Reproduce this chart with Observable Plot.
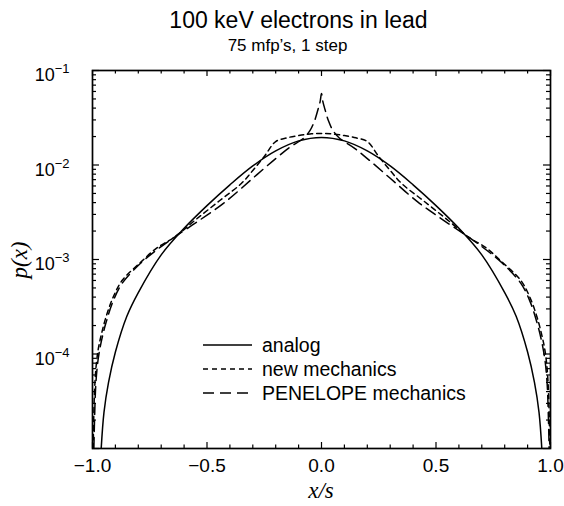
<!DOCTYPE html>
<html><head><meta charset="utf-8">
<script src="https://cdn.jsdelivr.net/npm/d3@7"></script>
<script src="https://cdn.jsdelivr.net/npm/@observablehq/plot@0.6"></script>
<style>
body{margin:0;background:#fff;}
#wrap{position:relative;width:564px;height:506px;font-family:"Liberation Sans",Arial,sans-serif;}
.t{position:absolute;text-align:center;white-space:nowrap;color:#000;line-height:1;}
</style></head><body><div id="wrap">
<div class="t" style="left:0;width:597px;top:9px;font-size:23px;">100 keV electrons in lead</div>
<div class="t" style="left:0;width:575px;top:37px;font-size:17px;">75 mfp’s, 1 step</div>
</div>
<script>
// analog (solid)
const xAnalog = [-0.962,-0.95,-0.93,-0.9,-0.85,-0.8,-0.7,-0.6,-0.5,-0.4,-0.3,-0.2,-0.1,0,0.1,0.2,0.3,0.4,0.5,0.6,0.7,0.8,0.85,0.9,0.93,0.95,0.962];
const pAnalog = [1.0e-5,2.4e-5,5.0e-5,1.05e-4,2.51e-4,4.47e-4,1.12e-3,2.14e-3,3.72e-3,6.17e-3,9.77e-3,1.41e-2,1.80e-2,1.96e-2,1.80e-2,1.41e-2,9.77e-3,6.17e-3,3.72e-3,2.14e-3,1.12e-3,4.47e-4,2.51e-4,1.05e-4,5.0e-5,2.4e-5,1.0e-5];
// new mechanics (short dash)
const xNew = [-0.997,-0.992,-0.985,-0.975,-0.96,-0.94,-0.91,-0.87,-0.79,-0.72,-0.64,-0.55,-0.444,-0.35,-0.3,-0.25,-0.2,-0.15,-0.1,-0.05,0,0.05,0.1,0.15,0.2,0.25,0.3,0.35,0.444,0.55,0.64,0.72,0.79,0.87,0.91,0.94,0.96,0.975,0.985,0.992,0.997];
const pNew = [1.0e-5,3.55e-5,7.08e-5,1.12e-4,1.66e-4,2.51e-4,3.98e-4,6.03e-4,9.33e-4,1.32e-3,1.74e-3,2.63e-3,4.21e-3,6.37e-3,8.75e-3,1.23e-2,1.77e-2,1.94e-2,2.05e-2,2.13e-2,2.16e-2,2.13e-2,2.05e-2,1.94e-2,1.77e-2,1.23e-2,8.75e-3,6.37e-3,4.21e-3,2.63e-3,1.74e-3,1.32e-3,9.33e-4,6.03e-4,3.98e-4,2.51e-4,1.66e-4,1.12e-4,7.08e-5,3.55e-5,1.0e-5];
// PENELOPE mechanics (long dash)
const xPen = [-0.994,-0.99,-0.985,-0.975,-0.96,-0.94,-0.91,-0.87,-0.79,-0.72,-0.64,-0.53,-0.42,-0.3,-0.2,-0.14,-0.08,-0.05,-0.03,-0.015,-0.006,0,0.006,0.015,0.03,0.05,0.08,0.14,0.2,0.3,0.42,0.53,0.64,0.72,0.79,0.87,0.91,0.94,0.96,0.975,0.985,0.99,0.994];
const pPen = [1.0e-5,2.51e-5,5.01e-5,8.91e-5,1.41e-4,2.19e-4,3.63e-4,5.62e-4,9.12e-4,1.26e-3,1.74e-3,2.63e-3,4.07e-3,7.24e-3,1.17e-2,1.53e-2,1.91e-2,2.32e-2,2.95e-2,3.89e-2,4.68e-2,5.71e-2,4.68e-2,3.89e-2,2.95e-2,2.32e-2,1.91e-2,1.53e-2,1.17e-2,7.24e-3,4.07e-3,2.63e-3,1.74e-3,1.26e-3,9.12e-4,5.62e-4,3.63e-4,2.19e-4,1.41e-4,8.91e-5,5.01e-5,2.51e-5,1.0e-5];

const seriesNames = ["analog", "new mechanics", "PENELOPE mechanics"];
const xMajorTicks = [-1.0, -0.5, 0.0, 0.5, 1.0];
const xMinorTicks = [-0.9,-0.8,-0.7,-0.6,-0.4,-0.3,-0.2,-0.1,0.1,0.2,0.3,0.4,0.6,0.7,0.8,0.9];
const yMajorTicks = [1e-5, 1e-4, 1e-3, 1e-2, 1e-1];
const yLabelTicks = [1e-4, 1e-3, 1e-2, 1e-1];
const yMinorTicks = [];
[1e-5,1e-4,1e-3,1e-2].forEach(b => [2,3,4,5,6,7,8,9].forEach(m => yMinorTicks.push(+(b*m).toPrecision(3))));

const toRows = (xs, ps) => xs.map((x, i) => ({x, p: ps[i]}));
const analog = toRows(xAnalog, pAnalog);
const newMech = toRows(xNew, pNew);
const pen = toRows(xPen, pPen);

const W = 564, H = 506, mT = 70, mL = 92, mR = 14, mB = 58;
const FW = W - mL - mR, FH = H - mT - mB;
const dashes = [null, "5,4", "11,6"];
const sw = 1.5;

const plot = Plot.plot({
  width: W, height: H,
  marginTop: mT, marginLeft: mL, marginRight: mR, marginBottom: mB,
  style: {fontFamily: "'Liberation Sans', Arial, sans-serif", fontSize: "19px", color: "#000", background: "#fff", overflow: "visible"},
  x: {domain: [-1, 1], label: null},
  y: {type: "log", domain: [1e-5, 0.1], label: null},
  marks: [
    Plot.line(analog, {x: "x", y: "p", stroke: "black", strokeWidth: sw, curve: "catmull-rom", clip: true}),
    Plot.line(newMech, {x: "x", y: "p", stroke: "black", strokeWidth: sw, strokeDasharray: dashes[1], curve: "catmull-rom", clip: true}),
    Plot.line(pen, {x: "x", y: "p", stroke: "black", strokeWidth: sw, strokeDasharray: dashes[2], curve: "catmull-rom", clip: true}),
    Plot.tickX(xMajorTicks, {x: d => d, insetTop: FH - 6, stroke: "black", strokeWidth: 1.2}),
    Plot.tickX(xMajorTicks, {x: d => d, insetBottom: FH - 6, stroke: "black", strokeWidth: 1.2}),
    Plot.tickX(xMinorTicks, {x: d => d, insetTop: FH - 3.5, stroke: "black", strokeWidth: 1.2}),
    Plot.tickX(xMinorTicks, {x: d => d, insetBottom: FH - 3.5, stroke: "black", strokeWidth: 1.2}),
    Plot.tickY(yMajorTicks, {y: d => d, insetRight: FW - 7, stroke: "black", strokeWidth: 1.2}),
    Plot.tickY(yMajorTicks, {y: d => d, insetLeft: FW - 7, stroke: "black", strokeWidth: 1.2}),
    Plot.tickY(yMinorTicks, {y: d => d, insetRight: FW - 4, stroke: "black", strokeWidth: 1.2}),
    Plot.tickY(yMinorTicks, {y: d => d, insetLeft: FW - 4, stroke: "black", strokeWidth: 1.2}),
    Plot.frame({stroke: "black", strokeWidth: 1.7}),
    Plot.axisX({ticks: xMajorTicks, tickSize: 0, tickPadding: 10, tickFormat: d3.format(".1f"), fontSize: 19}),
    Plot.axisY({ticks: yLabelTicks, tickSize: 0, tickPadding: 23, dy: 5, tickFormat: d => String(Math.round(Math.log10(d))), fontSize: 18})
  ]
});

const svg = d3.select(plot);
svg.selectAll('g[aria-label="y-axis tick label"] text').each(function() {
  const e = +this.textContent;
  const t = d3.select(this);
  t.text("10");
  t.append("tspan").attr("dy", "-0.6em").attr("font-size", "13px").text("\u2212" + Math.abs(e));
});

// axis titles
svg.append("text").attr("transform", "translate(27,260) rotate(-90)").attr("text-anchor", "middle")
  .attr("font-family", "'Liberation Serif', 'Times New Roman', serif").attr("font-style", "italic").attr("font-size", 23).text("p(x)");
svg.append("text").attr("x", 321).attr("y", 498).attr("text-anchor", "middle")
  .attr("font-family", "'Liberation Serif', 'Times New Roman', serif").attr("font-style", "italic").attr("font-size", 23).text("x/s");

// legend
const lg = svg.append("g");
const rowsY = [345, 369, 393];
seriesNames.forEach((name, i) => {
  const l = lg.append("line").attr("x1", 203).attr("x2", 252).attr("y1", rowsY[i]).attr("y2", rowsY[i])
    .attr("stroke", "black").attr("stroke-width", sw);
  if (dashes[i]) l.attr("stroke-dasharray", dashes[i]);
  lg.append("text").attr("x", 262).attr("y", rowsY[i]).attr("dy", "0.35em").attr("text-anchor", "start")
    .attr("font-family", "'Liberation Sans', Arial, sans-serif").attr("font-size", 19.5).text(name);
});

plot.style.position = "absolute";
plot.style.left = "0";
plot.style.top = "0";
document.getElementById("wrap").prepend(plot);
</script>
</body></html>
